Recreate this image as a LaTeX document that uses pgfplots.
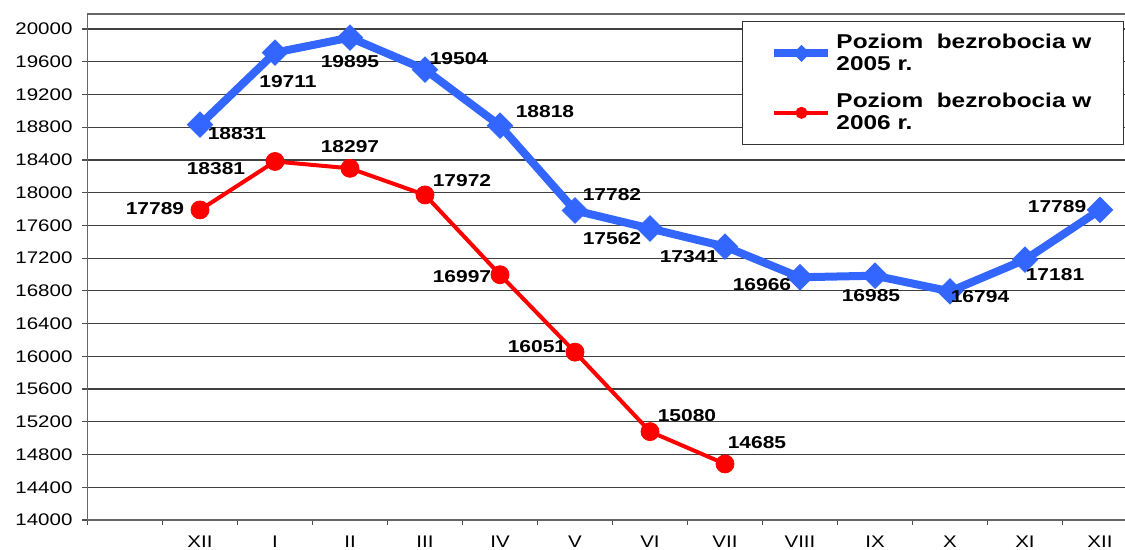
\documentclass[border=0pt]{standalone}
\usepackage{fontspec}
\setmainfont{Liberation Sans}[FakeStretch=1.22]
\usepackage{pgfplots}
\usepackage{pgfplotstable}
\pgfplotsset{compat=1.18}

\definecolor{seriesblue}{RGB}{51,102,255}
\definecolor{seriesred}{RGB}{255,0,0}

% dx, dy: label offset from the point, in pixels of the reference
\pgfplotstableread{
x y dx dy
1 18831 37 -9
2 19711 13 -29
3 19895 0 -24
4 19504 34 11
5 18818 45 14
6 17782 37 16
7 17562 -38 -10
8 17341 -36 -10
9 16966 -38 -7
10 16985 -4 -20
11 16794 30 -5
12 17181 30 -15
13 17789 -43 3
}\yearA

\pgfplotstableread{
x y dx dy
1 17789 -45 1
2 18381 -59 -7
3 18297 0 22
4 17972 37 14
5 16997 -38 -2
6 16051 -38 6
7 15080 37 16
8 14685 32 21
}\yearB

\pgfplotsset{
    valuelabels/.style={
        draw=none, mark=none, forget plot,
        point meta=explicit symbolic,
        visualization depends on={\thisrow{dx}\as\offx},
        visualization depends on={\thisrow{dy}\as\offy},
        nodes near coords,
        nodes near coords style={anchor=center, text=black,
            font=\bfseries\fontsize{8.6}{10}\selectfont,
            xshift=0.5*\offx, yshift=0.5*\offy},
    },
}

\begin{document}
\begin{tikzpicture}
\begin{axis}[
    at={(0,0)}, anchor=south west,
    scale only axis,
    width=525pt, height=253pt,
    xmin=-0.5, xmax=13.5,
    ymin=14000, ymax=20183,
    ytick={14000,14400,...,20000},
    scaled y ticks=false,
    xtick={0,...,13},
    xticklabels={,XII,I,II,III,IV,V,VI,VII,VIII,IX,X,XI,XII},
    minor xtick={-0.5,0.5,...,13.5},
    major x tick style={draw=none},
    tick align=outside, tick pos=left,
    major tick length=2.5pt, minor tick length=2.5pt,
    tick style={black!70, line width=0.6pt},
    ymajorgrids,
    grid style={black!75, line width=0.6pt},
    axis line style={black!60, line width=0.7pt},
    tick label style={font=\fontsize{8.4}{10}\selectfont},
    /pgf/number format/assume math mode=true,
    /pgf/number format/set thousands separator={},
    xticklabel style={yshift=-2pt},
    yticklabel style={xshift=-1.5pt},
    legend style={at={(rel axis cs:0.6233,0.986)}, anchor=north west,
        draw=black!80, line width=0.5pt,
        font=\bfseries\fontsize{10}{11}\selectfont,
        cells={align=left}, inner xsep=14pt, inner ysep=4pt,
        row sep=6pt},
    legend cell align=left,
    legend image code/.code={
        \draw[#1, mark=none] (0pt,0pt) -- (27pt,0pt);
        \draw[#1, mark size=2.8pt] plot coordinates {(13.5pt,0pt)};
    },
]
\addplot[seriesblue, line width=4pt, mark=square*,
    mark size=4.5pt, mark options={rotate=45, line width=0.4pt}]
    table[x=x, y=y] {\yearA};
\addlegendentry{Poziom\ \ bezrobocia w\\2005 r.}

\addplot[seriesred, line width=2pt, mark=*,
    mark size=4.5pt, mark options={line width=0.4pt}]
    table[x=x, y=y] {\yearB};
\addlegendentry{Poziom\ \ bezrobocia w\\2006 r.}

\addplot[valuelabels] table[x=x, y=y, meta=y] {\yearA};
\addplot[valuelabels] table[x=x, y=y, meta=y] {\yearB};
\end{axis}
\pgfresetboundingbox
\path[use as bounding box] (-43.75pt,-15pt) rectangle (518.75pt,260pt);
\end{tikzpicture}
\end{document}
